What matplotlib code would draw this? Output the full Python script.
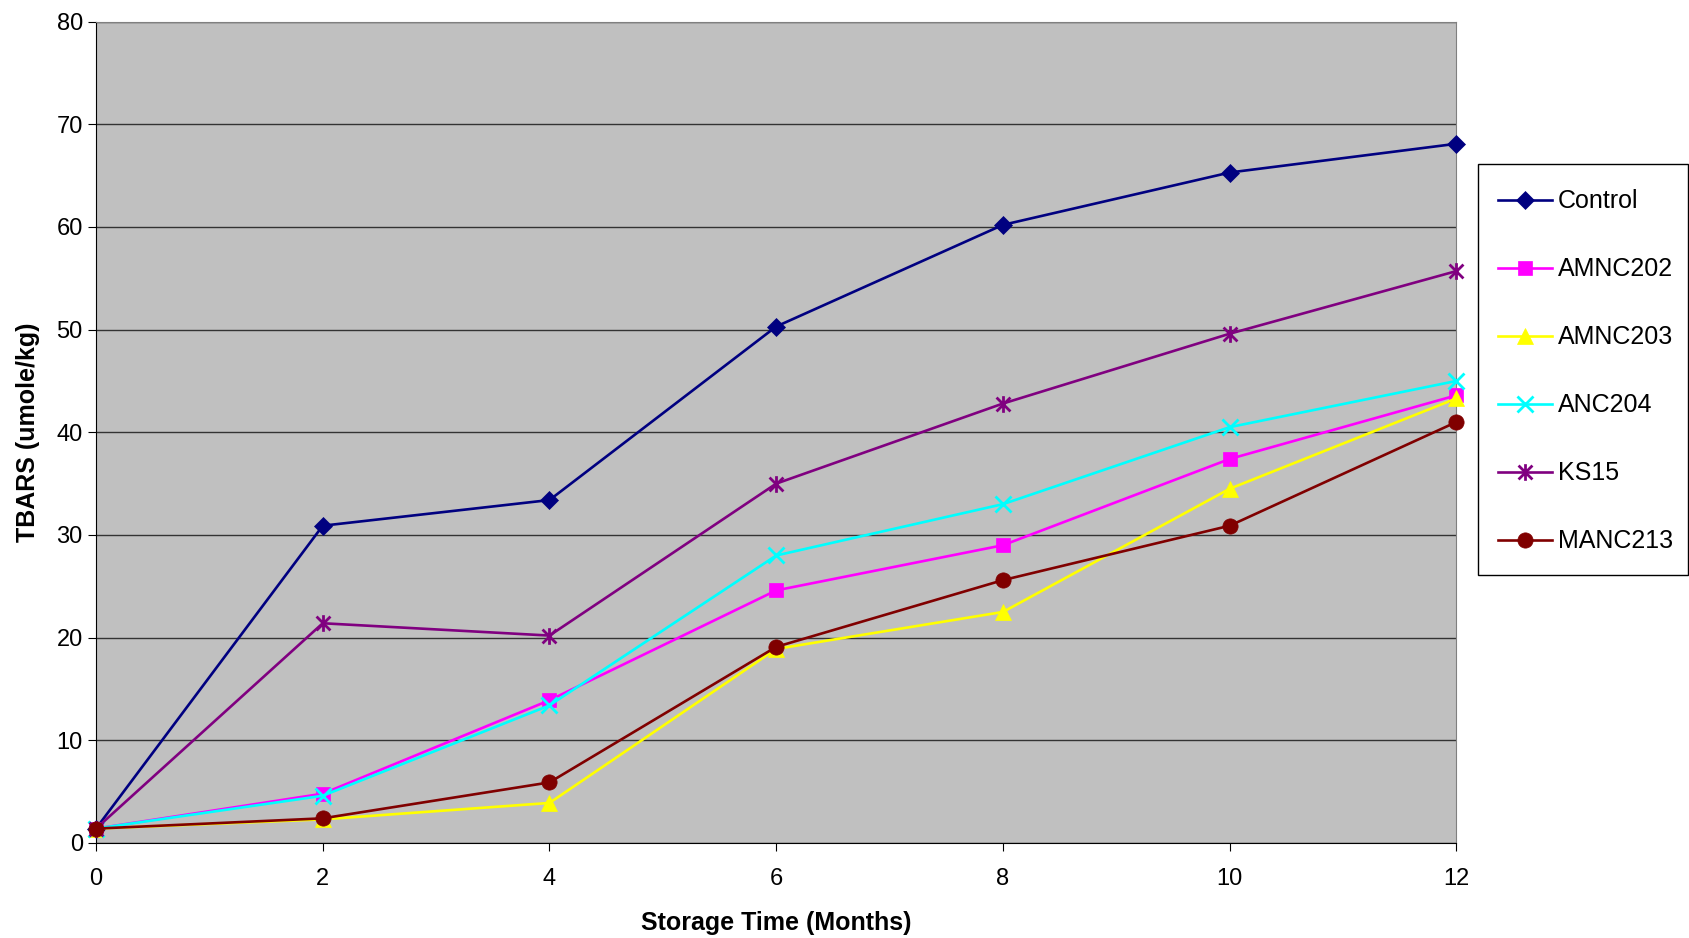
import matplotlib
matplotlib.use("Agg")
import matplotlib.pyplot as plt
from matplotlib.path import Path
from matplotlib.patches import Rectangle

plt.rcParams['font.family'] = ['Liberation Sans', 'DejaVu Sans']

months = [0, 2, 4, 6, 8, 10, 12]
control = [1.4, 30.9, 33.4, 50.3, 60.2, 65.3, 68.1]
amnc202 = [1.4, 4.8, 13.9, 24.6, 29.0, 37.4, 43.6]
amnc203 = [1.4, 2.3, 3.9, 18.9, 22.5, 34.5, 43.3]
anc204 = [1.4, 4.6, 13.4, 28.0, 33.0, 40.5, 45.0]
ks15 = [1.4, 21.4, 20.2, 35.0, 42.8, 49.6, 55.7]
manc213 = [1.4, 2.4, 5.9, 19.1, 25.6, 30.9, 41.0]

# excel-style star: an x with a vertical bar through it
star = Path([(-1, -1), (1, 1), (-1, 1), (1, -1), (0, -1.2), (0, 1.2)],
            [Path.MOVETO, Path.LINETO, Path.MOVETO, Path.LINETO, Path.MOVETO, Path.LINETO])

series = [
    ('Control', control, '#000080', 'D', 9),
    ('AMNC202', amnc202, '#FF00FF', 's', 10),
    ('AMNC203', amnc203, '#FFFF00', '^', 11),
    ('ANC204', anc204, '#00FFFF', 'x', 11),
    ('KS15', ks15, '#800080', star, 12),
    ('MANC213', manc213, '#800000', 'o', 11),
]

fig = plt.figure(figsize=(16.9, 9.38), dpi=100)
ax = fig.add_axes([0.0568, 0.1013, 0.805, 0.8757])
ax.set_facecolor('#C0C0C0')

for name, vals, col, mk, ms in series:
    thin = mk not in ('x',) and mk is not star
    ax.plot(months, vals, color=col, lw=1.9, marker=mk, ms=ms,
            markeredgewidth=0.5 if thin else 2,
            markeredgecolor=col, label=name, clip_on=False, zorder=3)

ax.set_xlim(0, 12)
ax.set_ylim(0, 80)
ax.set_xticks(range(0, 13, 2))
ax.set_yticks(range(0, 81, 10))
ax.yaxis.grid(True, color='#333333', lw=1)
ax.set_axisbelow(True)
ax.tick_params(labelsize=17, length=6, direction='out', color='black')
ax.tick_params(axis='x', pad=12)
for s in ['top', 'right']:
    ax.spines[s].set_color('#808080')
ax.spines['left'].set_color('black')
ax.spines['bottom'].set_color('black')

ax.set_xlabel('Storage Time (Months)', fontsize=18, fontweight='bold', labelpad=15)
ax.set_ylabel('TBARS (umole/kg)', fontsize=18, fontweight='bold', labelpad=12)

# legend frame drawn separately, excel leaves extra room at the bottom
fig.patches.append(Rectangle((0.8746, 0.3875), 0.1243, 0.4377, transform=fig.transFigure,
                             facecolor='white', edgecolor='black', lw=1, zorder=1))
leg = fig.legend(loc='upper left', bbox_to_anchor=(0.8864, 0.7981),
                 fontsize=18, frameon=False, handlelength=2.14, handletextpad=0.26,
                 labelspacing=1.76, borderpad=0, borderaxespad=0)
leg.set_zorder(2)

fig.savefig('out.png', dpi=100)
